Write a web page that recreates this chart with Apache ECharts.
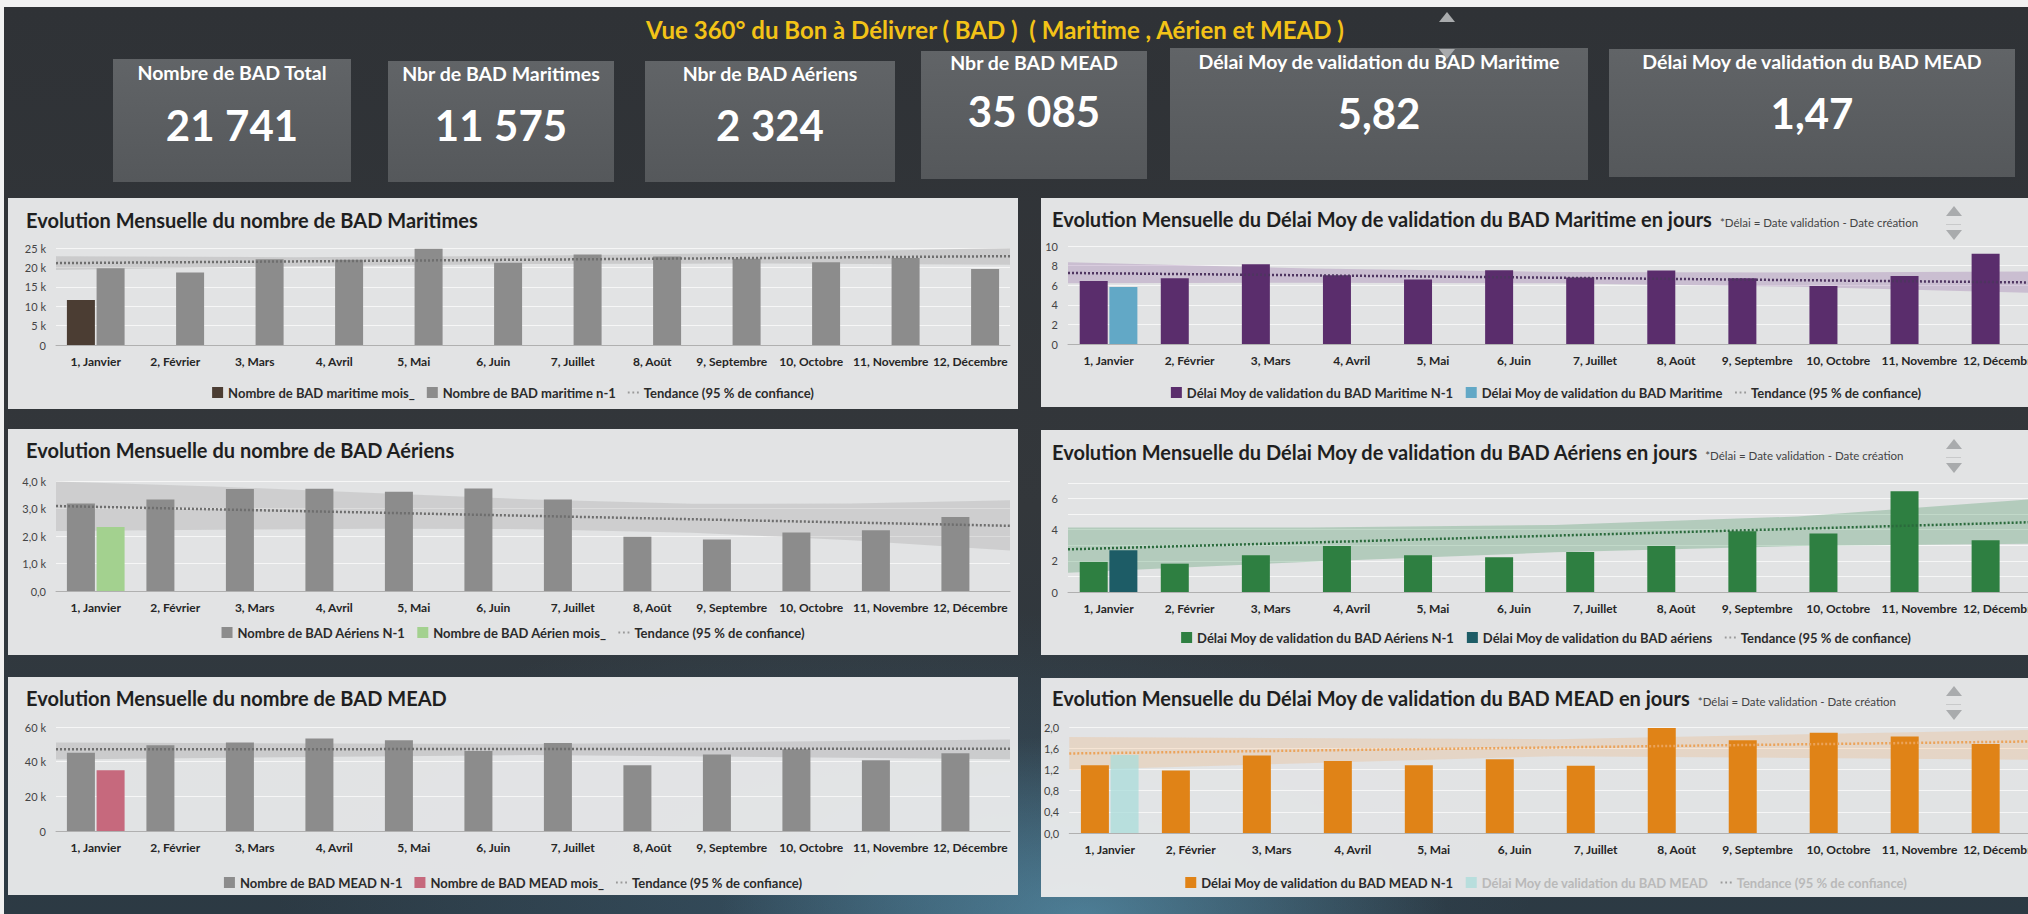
<!DOCTYPE html>
<html lang="fr">
<head>
<meta charset="utf-8">
<title>Vue 360° du Bon à Délivrer (BAD)</title>
<script src="https://cdn.jsdelivr.net/npm/echarts@6.0.0/dist/echarts.min.js"></script>
<style>
  html, body { margin: 0; padding: 0; }
  body {
    width: 2028px; height: 914px; overflow: hidden; position: relative;
    background: #f1f1f1;
    font-family: Lato, 'Noto Sans', sans-serif;
  }
  .board {
    position: absolute; left: 4px; top: 7px; right: 0; bottom: 0;
    background:
      radial-gradient(ellipse 520px 260px at 1080px 910px, rgba(110, 190, 225, 0.45), rgba(110, 190, 225, 0) 70%),
      radial-gradient(ellipse 900px 400px at 900px 880px, rgba(70, 120, 150, 0.35), rgba(70, 120, 150, 0) 70%),
      linear-gradient(180deg, #2f3236 0%, #33373b 55%, #2c3a44 100%);
  }
  .main-title {
    position: absolute; left: 495px; width: 1000px; top: 15px; line-height: 30px;
    text-align: center; color: #f3c317; font-size: 24px; font-weight: bold;
    white-space: pre;
  }
  .kpi {
    position: absolute; color: #fff; text-align: center;
    background: linear-gradient(180deg, #616467 0%, #55585b 100%);
  }
  .kpi .lbl { position: absolute; left: 0; right: 0; font-size: 19.5px; line-height: 24px; font-weight: bold; }
  .kpi .val { position: absolute; left: 0; right: 0; font-size: 42px; font-weight: bold; line-height: 50px; }
  .panel { position: absolute; background: rgba(233, 234, 235, 0.96); overflow: hidden; }
  .panel .chart { position: absolute; left: 0; top: 0; width: 100%; height: 100%; }
  .panel .ttl {
    position: absolute; font-size: 20px; font-weight: bold; color: #1f1f1f;
    white-space: nowrap; z-index: 2; line-height: 24px;
  }
  .panel .ttl small { font-size: 11.5px; font-weight: normal; color: #444; margin-left: 8px; }
  .arrows { position: absolute; width: 17px; z-index: 2; }
  .arrows .up { width: 0; height: 0; margin: 0 auto; border-left: 8px solid transparent; border-right: 8px solid transparent; border-bottom: 10px solid #a9abad; }
  .arrows .dn { width: 0; height: 0; margin: 0 auto; border-left: 8px solid transparent; border-right: 8px solid transparent; border-top: 10px solid #a9abad; }
  .arrows .bar { height: 1px; background: #c8c9ca; margin: 8px 1px 5px; }
</style>
</head>
<body>
<div class="board"></div>
<div class="main-title">Vue 360° du Bon à Délivrer ( BAD )  ( Maritime , Aérien et MEAD )</div>
<div class="arrows" style="left:1438px; top:12px;">
  <div class="up"></div><div style="height:27px"></div><div class="dn"></div>
</div>
<div id="kpis"></div>

<div class="panel" style="left:8px; top:198px; width:1010px; height:211px;">
  <div class="chart" id="c1"></div>
  <div class="ttl" style="left:18px; top:10px;">Evolution Mensuelle du nombre de BAD Maritimes</div>
</div>
<div class="panel" style="left:8px; top:429px; width:1010px; height:226px;">
  <div class="chart" id="c2"></div>
  <div class="ttl" style="left:18px; top:9px;">Evolution Mensuelle du nombre de BAD Aériens</div>
</div>
<div class="panel" style="left:8px; top:677px; width:1010px; height:218px;">
  <div class="chart" id="c3"></div>
  <div class="ttl" style="left:18px; top:9px;">Evolution Mensuelle du nombre de BAD MEAD</div>
</div>
<div class="panel" style="left:1041px; top:198px; width:1010px; height:209px;">
  <div class="chart" id="c4"></div>
  <div class="ttl" style="left:11px; top:9px;">Evolution Mensuelle du Délai Moy de validation du BAD Maritime en jours<small>*Délai = Date validation - Date création</small></div>
  <div class="arrows" style="left:904px; top:8px;"><div class="up"></div><div class="bar"></div><div class="dn"></div></div>
</div>
<div class="panel" style="left:1041px; top:430px; width:1010px; height:225px;">
  <div class="chart" id="c5"></div>
  <div class="ttl" style="left:11px; top:10px;">Evolution Mensuelle du Délai Moy de validation du BAD Aériens en jours<small>*Délai = Date validation - Date création</small></div>
  <div class="arrows" style="left:904px; top:9px;"><div class="up"></div><div class="bar"></div><div class="dn"></div></div>
</div>
<div class="panel" style="left:1041px; top:678px; width:1010px; height:219px;">
  <div class="chart" id="c6"></div>
  <div class="ttl" style="left:11px; top:8px;">Evolution Mensuelle du Délai Moy de validation du BAD MEAD en jours<small>*Délai = Date validation - Date création</small></div>
  <div class="arrows" style="left:904px; top:8px;"><div class="up"></div><div class="bar"></div><div class="dn"></div></div>
</div>

<script>
// Axes communs
const months = ['1, Janvier', '2, Février', '3, Mars', '4, Avril', '5, Mai', '6, Juin',
  '7, Juillet', '8, Août', '9, Septembre', '10, Octobre', '11, Novembre', '12, Décembre'];
const trendX = [0, 12]; // début et fin de la droite de tendance (bords du graphe)

// Indicateurs du bandeau
const kpiLabels = ['Nombre de BAD Total', 'Nbr de BAD Maritimes', 'Nbr de BAD Aériens', 'Nbr de BAD MEAD',
  'Délai Moy de validation du BAD Maritime', 'Délai Moy de validation du BAD MEAD'];
const kpiValues = ['21\u202F741', '11\u202F575', '2\u202F324', '35\u202F085', '5,82', '1,47'];

// BAD Maritimes
const maritimeMois = [11575, null, null, null, null, null, null, null, null, null, null, null];
const maritimeN1 = [19800, 18700, 22100, 22000, 24800, 21200, 23300, 22800, 22200, 21300, 22400, 19600];
const maritimeTrend = [21100, 22900];
const maritimeBandX = [0, 3, 6, 9, 12];
const maritimeBandLow = [19300, 20300, 20900, 21000, 20700];
const maritimeBandHigh = [22900, 22600, 23000, 23800, 25000];

// BAD Aériens
const aerienN1 = [3180, 3330, 3710, 3720, 3610, 3730, 3330, 1970, 1870, 2130, 2210, 2690];
const aerienMois = [2324, null, null, null, null, null, null, null, null, null, null, null];
const aerienTrend = [3090, 2370];
const aerienBandX = [0, 2, 4, 6, 8, 10, 12];
const aerienBandLow = [2180, 2230, 2260, 2250, 2120, 1850, 1470];
const aerienBandHigh = [3980, 3800, 3560, 3330, 3170, 3180, 3300];

// BAD MEAD
const meadN1 = [45200, 49400, 51000, 53300, 52300, 46200, 50800, 37900, 44200, 47100, 40800, 44800];
const meadMois = [35085, null, null, null, null, null, null, null, null, null, null, null];
const meadTrend = [47100, 47500];
const meadBandX = [0, 6, 12];
const meadBandLow = [41300, 43800, 41400];
const meadBandHigh = [51000, 50200, 52800];

// Délai Maritime (jours)
const delaiMarN1 = [6.44, 6.71, 8.14, 7.02, 6.58, 7.53, 6.78, 7.49, 6.71, 5.93, 6.95, 9.22];
const delaiMar = [5.82, null, null, null, null, null, null, null, null, null, null, null];
const delaiMarTrend = [7.25, 6.27];
const delaiMarBandX = [0, 3, 6, 9, 12];
const delaiMarBandLow = [6.2, 6.25, 6.2, 5.85, 5.2];
const delaiMarBandHigh = [8.35, 7.7, 7.35, 7.3, 7.4];

// Délai Aériens (jours)
const delaiAirN1 = [1.93, 1.82, 2.36, 2.96, 2.36, 2.23, 2.57, 2.96, 3.9, 3.75, 6.47, 3.32];
const delaiAir = [2.68, null, null, null, null, null, null, null, null, null, null, null];
const delaiAirTrend = [2.74, 4.5];
const delaiAirBandX = [0, 3, 6, 9, 12];
const delaiAirBandLow = [1.24, 1.95, 2.55, 2.95, 3.1];
const delaiAirBandHigh = [4.15, 4.15, 4.3, 4.85, 6.0];

// Délai MEAD (jours)
const delaiMeadN1 = [1.28, 1.18, 1.46, 1.36, 1.28, 1.39, 1.27, 1.98, 1.75, 1.89, 1.82, 1.68];
const delaiMead = [1.47, null, null, null, null, null, null, null, null, null, null, null];
const delaiMeadTrend = [1.5, 1.73];
const delaiMeadBandX = [0, 6, 12];
const delaiMeadBandLow = [1.19, 1.45, 1.38];
const delaiMeadBandHigh = [1.81, 1.77, 1.95];

const FONT = 'Lato, "Noto Sans", sans-serif';
const TREND = 'Tendance (95 % de confiance)';
const DOTS = 'path://M0,5h2v2h-2zM5,5h2v2h-2zM10,5h2v2h-2z';

// bandeau KPI (positions en px ; ly / vy = haut du libellé / de la valeur)
const kpiBoxes = [
  { x: 113, y: 59, w: 238, h: 123, ly: 2, vy: 41 },
  { x: 388, y: 61, w: 226, h: 121, ly: 1, vy: 39 },
  { x: 645, y: 61, w: 250, h: 121, ly: 1, vy: 39 },
  { x: 921, y: 51, w: 226, h: 128, ly: 0, vy: 35 },
  { x: 1170, y: 48, w: 418, h: 132, ly: 2, vy: 40 },
  { x: 1609, y: 49, w: 406, h: 128, ly: 1, vy: 39 }
];
const kpiWrap = document.getElementById('kpis');
kpiBoxes.forEach((b, i) => {
  const d = document.createElement('div');
  d.className = 'kpi';
  d.style.cssText = `left:${b.x}px;top:${b.y}px;width:${b.w}px;height:${b.h}px;`;
  d.innerHTML = `<div class="lbl" style="top:${b.ly}px">${kpiLabels[i]}</div>` +
    `<div class="val" style="top:${b.vy}px">${kpiValues[i]}</div>`;
  kpiWrap.appendChild(d);
});

function makeChart(id, cfg) {
  const chart = echarts.init(document.getElementById(id), null, { renderer: 'svg' });

  const legendData = cfg.bars.map(b => ({
    name: b.name, icon: 'rect',
    textStyle: b.faded ? { color: '#b9b9b9' } : undefined
  }));
  legendData.push({
    name: TREND, icon: DOTS, itemStyle: { color: '#9a9a9a' },
    textStyle: cfg.trendFaded ? { color: '#b9b9b9' } : undefined
  });

  const option = {
    animation: false,
    textStyle: { fontFamily: FONT },
    grid: cfg.grid,
    legend: {
      top: cfg.legendTop, left: 'center',
      itemWidth: 11, itemHeight: 11, itemGap: 12,
      textStyle: { fontFamily: FONT, fontSize: 13, fontWeight: 'bold', color: '#2b2b2b' },
      data: legendData
    },
    xAxis: [
      {
        type: 'category', data: months,
        axisTick: { show: false },
        axisLine: { lineStyle: { color: '#b0b0b0' } },
        axisLabel: { interval: 0, margin: 10, fontFamily: FONT, fontSize: 12, fontWeight: 'bold', color: '#262626' }
      },
      { type: 'value', min: 0, max: 12, show: false }
    ],
    yAxis: {
      type: 'value', min: 0, max: cfg.yMax, interval: cfg.yInterval,
      axisLabel: { formatter: cfg.yFormat, margin: 10, fontFamily: FONT, fontSize: 11, color: '#444' },
      axisLine: { show: false }, axisTick: { show: false },
      splitLine: { lineStyle: { color: '#f6f6f6' } }
    },
    series: [
      {
        // bande de confiance : un polygone (bord haut puis bord bas) placé par les axes
        name: 'band', type: 'custom', xAxisIndex: 1, silent: true, z: 1, clip: true,
        data: cfg.bandX.map((x, i) => [x, cfg.bandLow[i], cfg.bandHigh[i]]),
        encode: { x: 0, y: [1, 2] },
        renderItem: (params, api) => {
          if (params.dataIndex !== 0) return null;
          const top = cfg.bandX.map((x, i) => api.coord([x, cfg.bandHigh[i]]));
          const bottom = cfg.bandX.map((x, i) => api.coord([x, cfg.bandLow[i]])).reverse();
          return { type: 'polygon', shape: { points: top.concat(bottom) }, style: { fill: cfg.bandColor } };
        }
      },
      ...cfg.bars.map(b => ({
        name: b.name, type: 'bar', data: b.data, barWidth: 28, barGap: '6%', z: 3,
        itemStyle: { color: b.color, opacity: b.opacity == null ? 1 : b.opacity }
      })),
      {
        name: TREND, type: 'line', xAxisIndex: 1, symbol: 'none', z: 4,
        lineStyle: { type: [2, 2], width: 2.5, color: cfg.trendColor },
        itemStyle: { color: '#9a9a9a' },
        data: trendX.map((x, i) => [x, cfg.trend[i]])
      }
    ]
  };
  chart.setOption(option);
  return chart;
}

const kFmt = v => (v === 0 ? '0' : v / 1000 + ' k');
const kDecFmt = v => (v === 0 ? '0,0' : (v / 1000).toFixed(1).replace('.', ',') + ' k');
const decFmt = v => v.toFixed(1).replace('.', ',');
const leftGrid = (top, bottom) => ({ left: 48, right: 8, top: top, bottom: bottom });
const rightGrid = (top, bottom) => ({ left: 27, right: 10, top: top, bottom: bottom });

makeChart('c1', {
  grid: leftGrid(50, 64), legendTop: 183, yMax: 25000, yInterval: 5000, yFormat: kFmt,
  bars: [
    { name: 'Nombre de BAD maritime mois_', data: maritimeMois, color: '#4b3d33' },
    { name: 'Nombre de BAD maritime n-1', data: maritimeN1, color: '#8c8c8c' }
  ],
  trend: maritimeTrend, trendColor: '#6e6e6e',
  bandX: maritimeBandX, bandLow: maritimeBandLow, bandHigh: maritimeBandHigh,
  bandColor: 'rgba(150, 150, 150, 0.3)'
});

makeChart('c2', {
  grid: leftGrid(52, 64), legendTop: 192, yMax: 4000, yInterval: 1000, yFormat: kDecFmt,
  bars: [
    { name: 'Nombre de BAD Aériens N-1', data: aerienN1, color: '#8c8c8c' },
    { name: 'Nombre de BAD Aérien mois_', data: aerienMois, color: '#a3d18f' }
  ],
  trend: aerienTrend, trendColor: '#6e6e6e',
  bandX: aerienBandX, bandLow: aerienBandLow, bandHigh: aerienBandHigh,
  bandColor: 'rgba(160, 160, 160, 0.3)'
});

makeChart('c3', {
  grid: leftGrid(50, 64), legendTop: 194, yMax: 60000, yInterval: 20000, yFormat: kFmt,
  bars: [
    { name: 'Nombre de BAD MEAD N-1', data: meadN1, color: '#8c8c8c' },
    { name: 'Nombre de BAD MEAD mois_', data: meadMois, color: '#c6697d' }
  ],
  trend: meadTrend, trendColor: '#6e6e6e',
  bandX: meadBandX, bandLow: meadBandLow, bandHigh: meadBandHigh,
  bandColor: 'rgba(150, 150, 150, 0.3)'
});

makeChart('c4', {
  grid: rightGrid(48, 63), legendTop: 183, yMax: 10, yInterval: 2, yFormat: v => String(v),
  bars: [
    { name: 'Délai Moy de validation du BAD Maritime N-1', data: delaiMarN1, color: '#5a2d6c' },
    { name: 'Délai Moy de validation du BAD Maritime', data: delaiMar, color: '#62a8c6' }
  ],
  trend: delaiMarTrend, trendColor: '#4e3560',
  bandX: delaiMarBandX, bandLow: delaiMarBandLow, bandHigh: delaiMarBandHigh,
  bandColor: 'rgba(130, 80, 150, 0.25)'
});

makeChart('c5', {
  grid: rightGrid(53, 63), legendTop: 196, yMax: 7, yInterval: 1,
  yFormat: v => (v % 2 === 0 ? String(v) : ''),
  bars: [
    { name: 'Délai Moy de validation du BAD Aériens N-1', data: delaiAirN1, color: '#2e7f41' },
    { name: 'Délai Moy de validation du BAD aériens', data: delaiAir, color: '#1d5c66' }
  ],
  trend: delaiAirTrend, trendColor: '#2a6a3c',
  bandX: delaiAirBandX, bandLow: delaiAirBandLow, bandHigh: delaiAirBandHigh,
  bandColor: 'rgba(70, 150, 95, 0.3)'
});

makeChart('c6', {
  grid: rightGrid(49, 64), legendTop: 193, yMax: 2, yInterval: 0.4, yFormat: decFmt,
  bars: [
    { name: 'Délai Moy de validation du BAD MEAD N-1', data: delaiMeadN1, color: '#e08317' },
    { name: 'Délai Moy de validation du BAD MEAD', data: delaiMead, color: '#a9dcda', opacity: 0.75, faded: true }
  ],
  trend: delaiMeadTrend, trendColor: '#eba35a', trendFaded: true,
  bandX: delaiMeadBandX, bandLow: delaiMeadBandLow, bandHigh: delaiMeadBandHigh,
  bandColor: 'rgba(240, 165, 90, 0.22)'
});
</script>
</body>
</html>
